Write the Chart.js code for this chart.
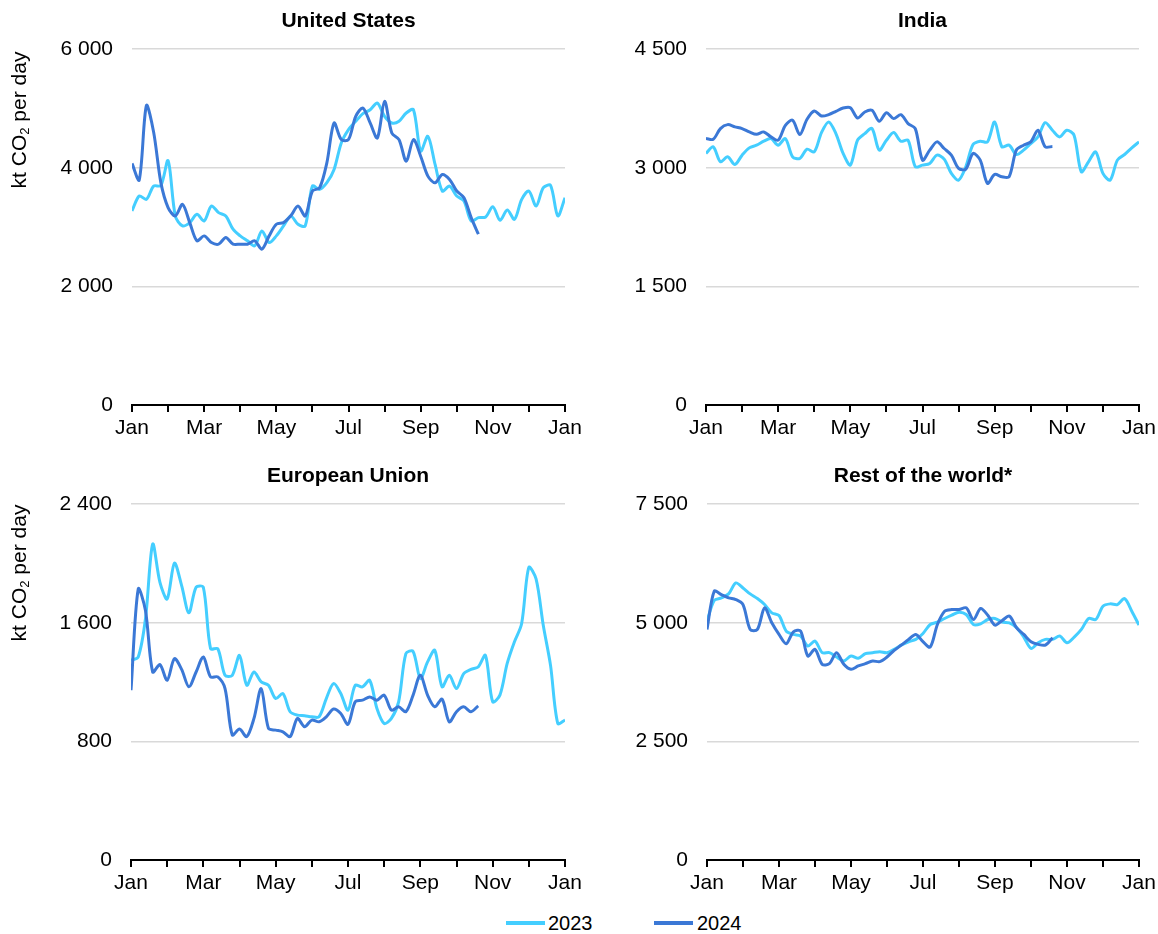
<!DOCTYPE html>
<html>
<head>
<meta charset="utf-8">
<script src="https://cdn.jsdelivr.net/npm/chart.js@4.4.1/dist/chart.umd.min.js"></script>
<style>
body { margin: 0; background: #fff; font-family: "Liberation Sans", Arial, sans-serif; color: #000; }
#wrap { position: relative; width: 1158px; height: 934px; overflow: hidden; }
canvas { position: absolute; }
.ytitle { position: absolute; font-size: 21px; white-space: nowrap; line-height: 24px;
          transform: translate(-50%, -50%) rotate(-90deg); }
.ytitle sub { font-size: 13px; line-height: 0; vertical-align: -3px; }
.leg-line { position: absolute; height: 4px; width: 39px; }
.leg-text { position: absolute; font-size: 20px; line-height: 22px; }
</style>
</head>
<body>
<div id="wrap">
  <canvas id="us" width="600" height="450" style="left:0;top:0"></canvas>
  <canvas id="india" width="583" height="450" style="left:575px;top:0"></canvas>
  <canvas id="eu" width="600" height="450" style="left:0;top:455px"></canvas>
  <canvas id="row" width="583" height="450" style="left:575px;top:455px"></canvas>

  <div class="ytitle" style="left:19px;top:120px">kt CO<sub>2</sub> per day</div>
  <div class="ytitle" style="left:19px;top:573px">kt CO<sub>2</sub> per day</div>

  <div class="leg-line" style="left:506px;top:921px;background:#44ceff"></div>
  <div class="leg-text" style="left:548px;top:912px">2023</div>
  <div class="leg-line" style="left:654px;top:921px;background:#3b78d6"></div>
  <div class="leg-text" style="left:697px;top:912px">2024</div>
</div>

<script>
// x positions are months since Jan 1, one value every 0.2 month
const step = 0.2;
const monthNames = ["Jan", "Feb", "Mar", "Apr", "May", "Jun",
                    "Jul", "Aug", "Sep", "Oct", "Nov", "Dec", "Jan"];

const us2023 = [3272, 3524, 3468, 3692, 3700, 4120, 3188, 3020, 3076, 3216,
                3104, 3356, 3244, 3188, 2964, 2852, 2768, 2684, 2936, 2740,
                2852, 3020, 3188, 3048, 3020, 3692, 3636, 3748, 3972, 4420,
                4644, 4784, 4913, 4980, 5092, 4868, 4756, 4784, 4924, 4980,
                4280, 4532, 4056, 3608, 3692, 3524, 3440, 3104, 3160, 3171,
                3345, 3115, 3289, 3132, 3468, 3608, 3356, 3664, 3703, 3188,
                3496];
const us2024 = [4073, 3793, 5050, 4600, 3750, 3330, 3188, 3384, 3076, 2768,
                2852, 2740, 2712, 2824, 2712, 2712, 2712, 2768, 2628, 2852,
                3048, 3076, 3190, 3356, 3188, 3608, 3664, 4084, 4756, 4476,
                4476, 4868, 5008, 4756, 4504, 5120, 4588, 4476, 4112, 4476,
                4196, 3860, 3748, 3888, 3804, 3608, 3496, 3160, 2880];

const india2023 = [3181, 3265, 3076, 3139, 3042, 3160, 3252, 3286, 3336, 3370,
                   3286, 3370, 3139, 3118, 3235, 3202, 3445, 3580, 3433, 3181,
                   3034, 3349, 3433, 3496, 3223, 3349, 3445, 3336, 3349, 3013,
                   3034, 3055, 3160, 3109, 2929, 2845, 3013, 3294, 3336, 3328,
                   3580, 3265, 3286, 3168, 3223, 3307, 3391, 3571, 3475, 3391,
                   3475, 3412, 2950, 3076, 3202, 2929, 2845, 3097, 3168, 3252,
                   3328];
const india2024 = [3370, 3361, 3496, 3546, 3517, 3496, 3454, 3424, 3454, 3391,
                   3349, 3538, 3601, 3420, 3613, 3718, 3655, 3672, 3714, 3756,
                   3760, 3630, 3706, 3727, 3588, 3697, 3622, 3672, 3559, 3496,
                   3097, 3223, 3328, 3244, 3160, 2992, 2983, 3181, 3097, 2803,
                   2916, 2887, 2887, 3223, 3286, 3328, 3475, 3265, 3270];

const eu2023 = [1347, 1369, 1627, 2131, 1873, 1761, 2003, 1851, 1667, 1840,
                1840, 1425, 1425, 1246, 1246, 1380, 1179, 1268, 1201, 1179,
                1089, 1123, 1000, 977, 973, 966, 966, 1089, 1190, 1123,
                1011, 1179, 1168, 1212, 1022, 921, 955, 1067, 1392, 1407,
                1224, 1336, 1414, 1168, 1246, 1156, 1257, 1286, 1302, 1380,
                1067, 1112, 1324, 1470, 1593, 1974, 1896, 1582, 1313, 921,
                944];
const eu2024 = [1145, 1828, 1683, 1268, 1318, 1212, 1358, 1286, 1168, 1268,
                1369, 1235, 1235, 1156, 843, 883, 832, 955, 1156, 888,
                876, 865, 832, 955, 899, 944, 932, 966, 1018, 988,
                915, 1067, 1078, 1100, 1078, 1112, 1011, 1033, 1000, 1112,
                1246, 1112, 1033, 1085, 932, 1000, 1033, 1000, 1040];

const row2023 = [5035, 5469, 5525, 5609, 5840, 5735, 5609, 5511, 5385, 5210,
                 5154, 4825, 4755, 4720, 4510, 4615, 4370, 4370, 4279, 4195,
                 4300, 4251, 4349, 4370, 4391, 4370, 4440, 4531, 4601, 4650,
                 4776, 4965, 5014, 5091, 5161, 5224, 5175, 4965, 4979, 5070,
                 5091, 5014, 5000, 4895, 4699, 4461, 4580, 4650, 4650, 4720,
                 4580, 4699, 4860, 5091, 5070, 5350, 5399, 5385, 5511, 5245,
                 4951];
const row2024 = [4860, 5665, 5595, 5525, 5490, 5385, 4860, 4860, 5315, 5000,
                 4755, 4559, 4811, 4825, 4300, 4440, 4125, 4139, 4370, 4125,
                 4020, 4090, 4139, 4195, 4181, 4279, 4419, 4531, 4650, 4755,
                 4601, 4489, 4965, 5245, 5280, 5280, 5315, 5070, 5301, 5161,
                 4951, 5049, 5140, 4895, 4755, 4601, 4545, 4531, 4685];

Chart.defaults.font.family = '"Liberation Sans", Arial, sans-serif';
Chart.defaults.font.size = 21;
Chart.defaults.color = "#000";

function toPoints(values) {
    return values.map(function(v, i) {
        return { x: i * step, y: v };
    });
}

function spaced(v) {
    return String(v).replace(/\B(?=(\d{3})+(?!\d))/g, " ");
}

function criarPainel(id, titulo, d2023, d2024, yMax, yStep, yWidth, padRight) {

    const ctx = document.getElementById(id);

    new Chart(ctx, {
        type: "line",
        data: {
            datasets: [
                {
                    label: "2023",
                    data: toPoints(d2023),
                    borderColor: "#44ceff",
                    borderWidth: 3,
                    pointRadius: 0,
                    tension: 0.3,
                    order: 2
                },
                {
                    label: "2024",
                    data: toPoints(d2024),
                    borderColor: "#3b78d6",
                    borderWidth: 3,
                    pointRadius: 0,
                    tension: 0.3,
                    order: 1
                }
            ]
        },
        options: {
            responsive: false,
            animation: false,
            devicePixelRatio: 1,
            layout: { padding: { left: 0, right: padRight, top: 0, bottom: 0 } },
            plugins: {
                legend: { display: false },
                tooltip: { enabled: false },
                title: {
                    display: true,
                    text: titulo,
                    fullSize: false,
                    color: "#000",
                    font: { size: 21, weight: "bold" },
                    padding: { top: 9, bottom: 15 }
                }
            },
            scales: {
                x: {
                    type: "linear",
                    min: 0,
                    max: 12,
                    afterFit: function(s) {
                        s.height = 45;
                        s.paddingLeft = 0;
                        s.paddingRight = 0;
                    },
                    afterBuildTicks: function(s) {
                        s.ticks = monthNames.map(function(m, i) { return { value: i }; });
                    },
                    ticks: {
                        autoSkip: false,
                        maxRotation: 0,
                        padding: 4,
                        callback: function(v) {
                            return v % 2 === 0 ? monthNames[v] : "";
                        }
                    },
                    grid: {
                        drawOnChartArea: false,
                        drawTicks: true,
                        tickLength: 7,
                        color: "#000",
                        lineWidth: 2
                    },
                    border: { display: true, color: "#000", width: 2 }
                },
                y: {
                    min: 0,
                    max: yMax,
                    afterFit: function(s) {
                        s.width = yWidth;
                        s.paddingTop = 0;
                        s.paddingBottom = 0;
                    },
                    ticks: {
                        stepSize: yStep,
                        padding: 19,
                        callback: function(v) { return spaced(v); }
                    },
                    grid: {
                        drawTicks: false,
                        color: "#d9d9d9",
                        lineWidth: 1.5
                    },
                    border: { display: false }
                }
            }
        }
    });
}

criarPainel("us", "United States", us2023, us2024, 6000, 2000, 132, 35);
criarPainel("india", "India", india2023, india2024, 4500, 1500, 131, 19);
criarPainel("eu", "European Union", eu2023, eu2024, 2400, 800, 131, 35);
criarPainel("row", "Rest of the world*", row2023, row2024, 7500, 2500, 132, 19);
</script>
</body>
</html>
